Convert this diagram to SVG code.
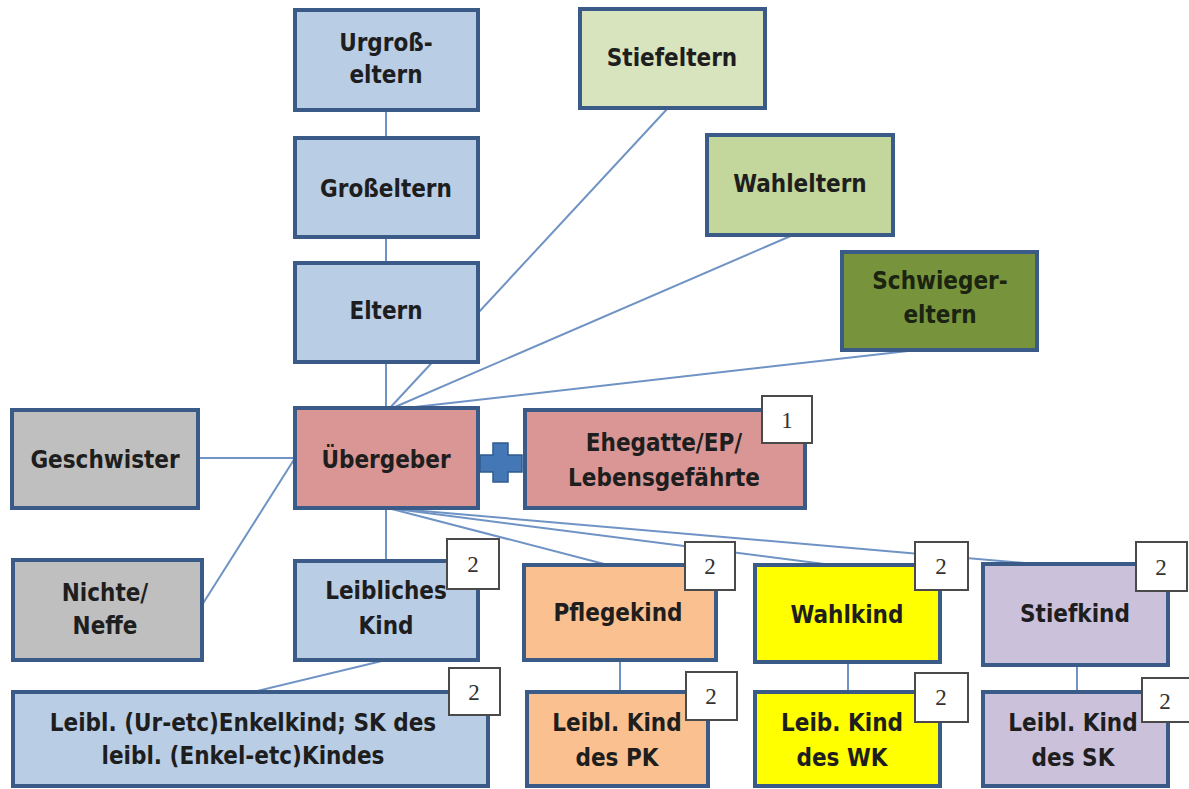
<svg xmlns="http://www.w3.org/2000/svg" width="1189" height="789" viewBox="0 0 1189 789">
<style>
  .box { stroke: #3a5b87; stroke-width: 4; }
  .lb { fill: #b9cde5; }
  .g1 { fill: #d7e4bd; }
  .g2 { fill: #c3d69b; }
  .g3 { fill: #77933c; }
  .gr { fill: #bfbfbf; }
  .rd { fill: #d99694; }
  .or { fill: #fac090; }
  .ye { fill: #ffff00; }
  .lv { fill: #ccc1da; }
  .t { font-family: "DejaVu Sans Condensed", "DejaVu Sans", sans-serif; font-stretch: condensed; font-weight: bold; font-size: 24px; fill: #1e1e1e; text-anchor: middle; }
  .badge { fill: #ffffff; stroke: #4a4a4a; stroke-width: 2; }
  .bt { font-family: "Liberation Serif", serif; font-size: 23px; fill: #333333; text-anchor: middle; }
  .c { stroke: #6f93c4; stroke-width: 2; fill: none; }
</style>
<rect width="1189" height="789" fill="#ffffff"/>
<g id="connectors">
  <line class="c" x1="386" y1="110" x2="386" y2="138"/>
  <line class="c" x1="386" y1="237" x2="386" y2="263"/>
  <line class="c" x1="386" y1="362" x2="386" y2="408"/>
  <line class="c" x1="668" y1="108" x2="388" y2="410"/>
  <line class="c" x1="793" y1="235" x2="388" y2="410"/>
  <line class="c" x1="917" y1="350" x2="388" y2="410"/>
  <line class="c" x1="198" y1="458" x2="295" y2="458"/>
  <line class="c" x1="202" y1="605" x2="295" y2="458"/>
  <line class="c" x1="386" y1="508" x2="386" y2="561"/>
  <line class="c" x1="388" y1="508" x2="608" y2="565"/>
  <line class="c" x1="388" y1="508" x2="832" y2="565"/>
  <line class="c" x1="388" y1="508" x2="1047" y2="565"/>
  <line class="c" x1="386" y1="660" x2="253" y2="692"/>
  <line class="c" x1="620" y1="660" x2="620" y2="690"/>
  <line class="c" x1="848" y1="660" x2="848" y2="690"/>
  <line class="c" x1="1077" y1="665" x2="1077" y2="692"/>
</g>
<g id="urgrosseltern">
  <rect class="box lb" x="295" y="10" width="183" height="100"/>
  <text class="t" x="386" y="51">Urgroß-</text>
  <text class="t" x="386" y="83">eltern</text>
</g>
<g id="stiefeltern">
  <rect class="box g1" x="580" y="9" width="185" height="99"/>
  <text class="t" x="672" y="66">Stiefeltern</text>
</g>
<g id="grosseltern">
  <rect class="box lb" x="295" y="138" width="183" height="99"/>
  <text class="t" x="386" y="197">Großeltern</text>
</g>
<g id="wahleltern">
  <rect class="box g2" x="707" y="135" width="186" height="100"/>
  <text class="t" x="800" y="192">Wahleltern</text>
</g>
<g id="eltern">
  <rect class="box lb" x="295" y="263" width="183" height="99"/>
  <text class="t" x="386" y="319">Eltern</text>
</g>
<g id="schwiegereltern">
  <rect class="box g3" x="842" y="252" width="195" height="98"/>
  <text class="t" x="940" y="289" style="fill:#1a2410">Schwieger-</text>
  <text class="t" x="940" y="323" style="fill:#1a2410">eltern</text>
</g>
<g id="geschwister">
  <rect class="box gr" x="12" y="410" width="186" height="98"/>
  <text class="t" x="105" y="468">Geschwister</text>
</g>
<g id="uebergeber">
  <rect class="box rd" x="295" y="408" width="183" height="100"/>
  <text class="t" x="386" y="468">Übergeber</text>
</g>
<g id="plus">
  <path d="M493,443 H508 V455 H522 V472 H508 V482 H493 V472 H480 V455 H493 Z" fill="#4377b5" stroke="#2f5b8f" stroke-width="1.5"/>
</g>
<g id="ehegatte">
  <rect class="box rd" x="525" y="410" width="280" height="98"/>
  <text class="t" x="664" y="451">Ehegatte/EP/</text>
  <text class="t" x="664" y="486">Lebensgefährte</text>
  <rect class="badge" x="762" y="396" width="50" height="47"/>
  <text class="bt" x="787" y="428">1</text>
</g>
<g id="nichte-neffe">
  <rect class="box gr" x="13" y="560" width="189" height="100"/>
  <text class="t" x="105" y="601">Nichte/</text>
  <text class="t" x="105" y="634">Neffe</text>
</g>
<g id="leibliches-kind">
  <rect class="box lb" x="295" y="561" width="183" height="99"/>
  <text class="t" x="386" y="599">Leibliches</text>
  <text class="t" x="386" y="634">Kind</text>
  <rect class="badge" x="447" y="539" width="52" height="50"/>
  <text class="bt" x="473" y="572">2</text>
</g>
<g id="pflegekind">
  <rect class="box or" x="524" y="565" width="192" height="95"/>
  <text class="t" x="618" y="621">Pflegekind</text>
  <rect class="badge" x="685" y="542" width="50" height="48"/>
  <text class="bt" x="710" y="574">2</text>
</g>
<g id="wahlkind">
  <rect class="box ye" x="755" y="565" width="185" height="97"/>
  <text class="t" x="847" y="623">Wahlkind</text>
  <rect class="badge" x="915" y="542" width="53" height="48"/>
  <text class="bt" x="941" y="574">2</text>
</g>
<g id="stiefkind">
  <rect class="box lv" x="983" y="564" width="185" height="101"/>
  <text class="t" x="1075" y="622">Stiefkind</text>
  <rect class="badge" x="1136" y="542" width="51" height="49"/>
  <text class="bt" x="1161" y="575">2</text>
</g>
<g id="enkelkind">
  <rect class="box lb" x="13" y="692" width="475" height="94"/>
  <text class="t" x="243" y="731">Leibl. (Ur-etc)Enkelkind; SK des</text>
  <text class="t" x="243" y="764">leibl. (Enkel-etc)Kindes</text>
  <rect class="badge" x="449" y="668" width="51" height="47"/>
  <text class="bt" x="474" y="700">2</text>
</g>
<g id="kind-des-pk">
  <rect class="box or" x="527" y="692" width="181" height="94"/>
  <text class="t" x="617" y="731">Leibl. Kind</text>
  <text class="t" x="617" y="766">des PK</text>
  <rect class="badge" x="686" y="672" width="51" height="48"/>
  <text class="bt" x="711" y="704">2</text>
</g>
<g id="kind-des-wk">
  <rect class="box ye" x="755" y="692" width="185" height="94"/>
  <text class="t" x="842" y="731">Leib. Kind</text>
  <text class="t" x="842" y="766">des WK</text>
  <rect class="badge" x="915" y="673" width="53" height="49"/>
  <text class="bt" x="941" y="705">2</text>
</g>
<g id="kind-des-sk">
  <rect class="box lv" x="983" y="692" width="185" height="94"/>
  <text class="t" x="1073" y="731">Leibl. Kind</text>
  <text class="t" x="1073" y="766">des SK</text>
  <rect class="badge" x="1142" y="678" width="52" height="44"/>
  <text class="bt" x="1165" y="709">2</text>
</g>
</svg>
